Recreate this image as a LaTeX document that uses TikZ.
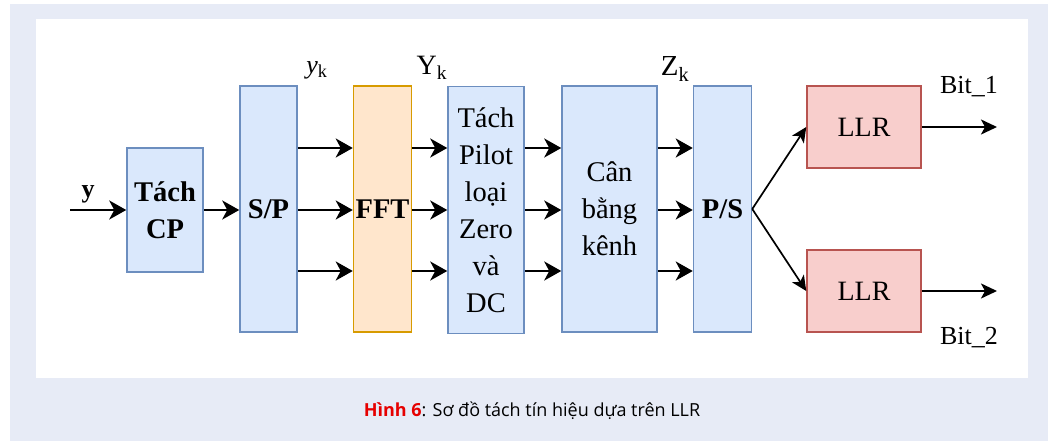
\documentclass[tikz,border=0pt]{standalone}
\usepackage{fontspec}
\setmainfont{Liberation Serif}
\newfontfamily\capfont{Open Sans}
\usetikzlibrary{arrows.meta}

\definecolor{pagebg}{RGB}{231,235,246}
\definecolor{bluefill}{HTML}{DAE8FC}
\definecolor{blueline}{HTML}{6C8EBF}
\definecolor{orangefill}{HTML}{FFE6CC}
\definecolor{orangeline}{HTML}{D79B00}
\definecolor{redfill}{HTML}{F8CECC}
\definecolor{redline}{HTML}{B85450}
\definecolor{capred}{RGB}{230,0,0}

\tikzset{
  blk/.style={draw=blueline, fill=bluefill, line width=1.5pt, inner sep=0pt,
              align=center, font=\fontsize{28.5}{37}\selectfont},
  fftblk/.style={blk, draw=orangeline, fill=orangefill},
  llrblk/.style={blk, draw=redline, fill=redfill, font=\fontsize{28}{32}\selectfont},
  arr/.style={line width=2.5pt, -{Stealth[length=17pt,width=19pt,inset=5pt]}},
  thinarr/.style={line width=1.7pt, -{Stealth[length=15pt,width=14pt,inset=4pt]}},
  outarr/.style={line width=2pt, -{Stealth[length=16pt,width=15pt,inset=4pt]}},
  lbl/.style={inner sep=0pt, font=\fontsize{26}{30}\selectfont}
}

\begin{document}
\begin{tikzpicture}[x=1pt, y=-1pt]
  \useasboundingbox (0,0) rectangle (1058,441);
  % page background and white drawing panel
  \fill[pagebg] (10,4) rectangle (1048,441);
  \fill[white] (36,19) rectangle (1028,378);

  % row levels for the parallel streams
  \coordinate (r1) at (0,148);
  \coordinate (r2) at (0,210);
  \coordinate (r3) at (0,271);

  % processing blocks
  \node[blk, minimum width=76pt, minimum height=124pt] (tcp) at (165,210) {\bfseries Tách\\\bfseries CP};
  \node[blk, minimum width=57pt, minimum height=246pt] (sp) at (268.5,209) {\bfseries S/P};
  \node[fftblk, minimum width=58pt, minimum height=246pt] (fft) at (382.5,209) {\bfseries FFT};
  \node[blk, minimum width=76pt, minimum height=247pt] (tpl) at (486,210) {Tách\\Pilot\\loại\\Zero\\và\\DC};
  \node[blk, minimum width=95pt, minimum height=246pt] (cbk) at (609.5,209) {Cân\\bằng\\kênh};
  \node[blk, minimum width=58pt, minimum height=246pt] (ps) at (722.5,209) {\bfseries P/S};
  \node[llrblk, minimum width=114pt, minimum height=82pt] (llr1) at (864,127) {LLR};
  \node[llrblk, minimum width=114pt, minimum height=82pt] (llr2) at (864,291) {LLR};

  % input
  \coordinate (in) at (70,210);
  \node[lbl, font=\fontsize{26}{30}\selectfont\bfseries] (ylbl) at (88,194) {y};
  \draw[arr] (in) -- (tcp.west |- in);
  \draw[arr] (tcp.east |- r2) -- (sp.west |- r2);

  % parallel streams
  \foreach \r in {r1,r2,r3} {
    \draw[arr] (sp.east |- \r) -- (fft.west |- \r);
    \draw[arr] (fft.east |- \r) -- (tpl.west |- \r);
    \draw[arr] (tpl.east |- \r) -- (cbk.west |- \r);
    \draw[arr] (cbk.east |- \r) -- (ps.west |- \r);
  }

  % stream labels
  \node[lbl, font=\fontsize{26}{30}\selectfont] (yk) at (317,70) {{\itshape y}\textsubscript{k}};
  \node[lbl, font=\fontsize{28}{30}\selectfont] (Yk) at (432,68) {Y\textsubscript{k}};
  \node[lbl, font=\fontsize{29}{30}\selectfont] (Zk) at (675,69) {Z\textsubscript{k}};

  % split into the two LLR branches
  \draw[thinarr] (ps.east) -- (llr1.west);
  \draw[thinarr] (ps.east) -- (llr2.west);

  % outputs
  \coordinate (o1) at (997,127);
  \coordinate (o2) at (997,291);
  \draw[outarr] (llr1.east) -- (o1);
  \draw[outarr] (llr2.east) -- (o2);
  \node[lbl] (b1) at (969,87) {Bit\_1};
  \node[lbl] (b2) at (969,338) {Bit\_2};

  % caption
  \node[anchor=base, inner sep=0pt, font=\capfont\fontsize{18}{21}\selectfont] (cap) at (532,416)
    {\textcolor{capred}{\bfseries Hình 6}: Sơ đồ tách tín hiệu dựa trên LLR};
\end{tikzpicture}
\end{document}
